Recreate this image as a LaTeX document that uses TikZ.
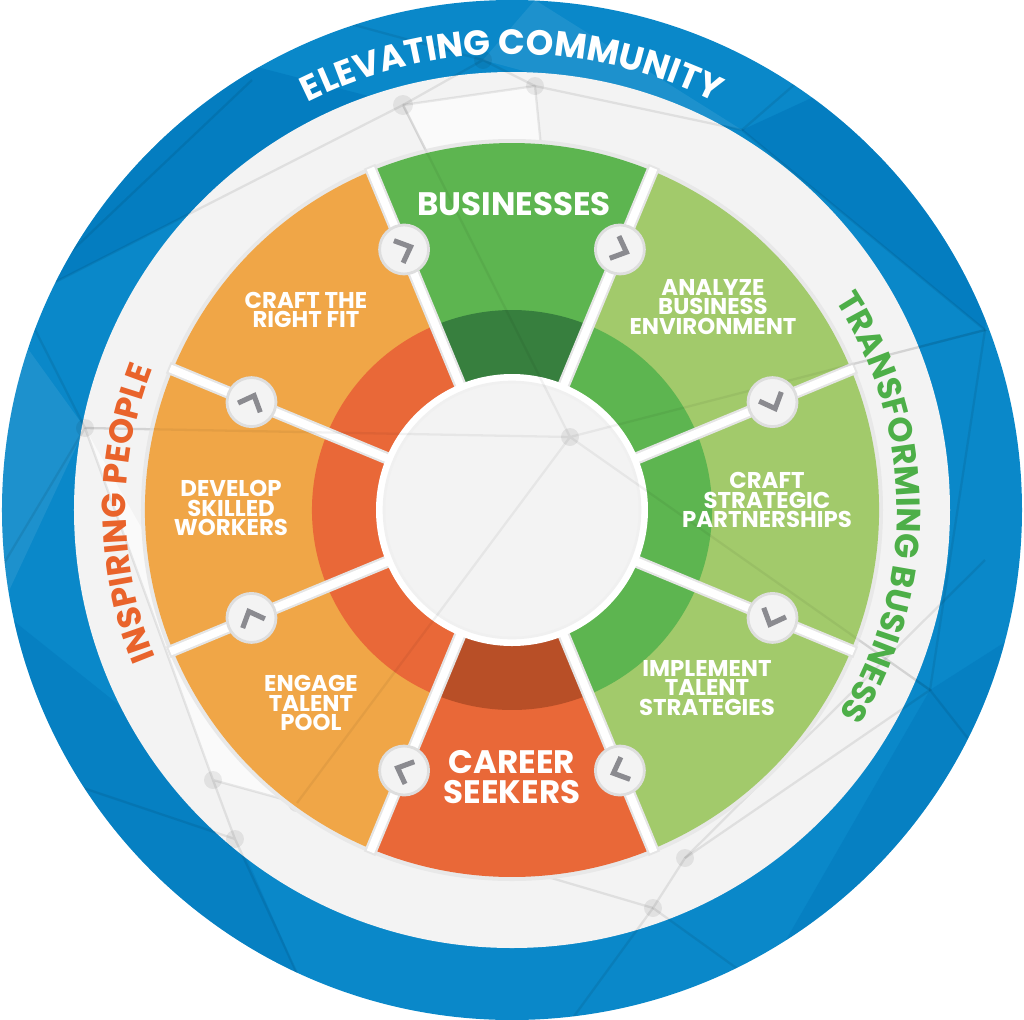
\documentclass[tikz,border=0pt]{standalone}
\usepackage{fontspec}
\setmainfont{Poppins}
\usepackage{tikz}
\usetikzlibrary{decorations.text}

\definecolor{ringblue}{HTML}{0A88C9}
\definecolor{ringdeep}{HTML}{0074B9}
\definecolor{ringbg}{HTML}{F3F3F3}
\definecolor{bizgreen}{HTML}{5DB550}
\definecolor{bizdark}{HTML}{377F3E}
\definecolor{lightgreen}{HTML}{A2CA6B}
\definecolor{peach}{HTML}{F0A647}
\definecolor{careerred}{HTML}{E96838}
\definecolor{careerdark}{HTML}{B84F27}
\definecolor{peopleorange}{HTML}{E9632B}
\definecolor{transgreen}{HTML}{4DAF48}
\definecolor{chevgray}{HTML}{8B8B90}
\newcommand\ringfont{\fontsize{20}{20}\selectfont\bfseries}
\newcommand\sidefont{\fontsize{19}{19}\selectfont\bfseries}

\begin{document}
\begin{tikzpicture}[x=0.02cm,y=0.02cm,
  mesh/.style={draw=black,draw opacity=0.08,line width=1.3pt},
  meshdot/.style={fill=black,fill opacity=0.07},
  gapshade/.style={draw=black!10,line width=7pt},
  gapline/.style={draw=white,line width=4.5pt},
  hub/.style={circle,fill=ringbg,draw=black!13,line width=1.6pt,minimum size=0.98cm,inner sep=0pt},
  chev/.style={draw=chevgray,line width=2.9pt,line join=miter},
  lbl/.style={text=white,font=\fontsize{13}{11.2}\selectfont\bfseries,align=center},
  biglbl/.style={text=white,font=\fontsize{18.5}{17.3}\selectfont\bfseries,align=center}]
\useasboundingbox (-512,-509) rectangle (512,510);

% outer blue ring
\fill[ringblue] (0,0) circle[radius=510];
\begin{scope}
\clip (0,0) circle[radius=510];
\fill[ringdeep,opacity=0.5] (-512,510) -- (-109,405) -- (-492,210) -- cycle;
\fill[ringdeep,opacity=0.5] (230,380) -- (512,510) -- (473,180) -- cycle;
\fill[ringdeep,opacity=0.4] (-512,-100) -- (-299,-270) -- (-212,-470) -- (-512,-509) -- cycle;
\fill[ringdeep,opacity=0.4] (248,-475) -- (512,-509) -- (512,-120) -- (418,-180) -- cycle;
\fill[white,opacity=0.08] (-29,450) -- (230,380) -- (23,510) -- cycle;
\fill[white,opacity=0.08] (-512,-100) -- (-427,82) -- (-512,200) -- cycle;
\fill[ringbg] (0,0) circle[radius=438];
\fill[white,opacity=0.6] (-109,405) -- (23,424) -- (58,73) -- cycle;
\fill[white,opacity=0.6] (-427,82) -- (-299,-270) -- (-215,-293) -- cycle;
% network pattern
\draw[mesh] (-109,405) -- (23,424) -- (230,380) -- (473,180) -- (58,73) -- (-109,405)
  -- (-492,210) -- (-427,82) -- (58,73) -- (418,-180) -- (173,-348) -- (141,-398) -- (248,-475);
\draw[mesh] (-109,405) -- (-29,450) -- (23,424) (-29,450) -- (-250,510) (23,424) -- (58,73)
  (230,380) -- (380,510) (473,180) -- (418,-180) -- (512,-300);
\draw[mesh] (-427,82) -- (-299,-270) -- (-277,-329) -- (-212,-470) (-299,-270) -- (-215,-293)
  -- (141,-398) (-215,-293) -- (58,73) (-277,-329) -- (-512,-250) (-427,82) -- (-512,-60)
  (173,-348) -- (473,-50) (141,-398) -- (60,-509) (-492,210) -- (-260,430);
\fill[meshdot] (-109,405) circle[radius=10] (23,424) circle[radius=9] (-29,450) circle[radius=9]
  (-427,82) circle[radius=9] (58,73) circle[radius=9] (173,-348) circle[radius=9]
  (141,-398) circle[radius=9] (-299,-270) circle[radius=9] (-277,-329) circle[radius=9]
  (-215,-293) circle[radius=9];
\end{scope}

% wheel
\fill[black!9] (0,0) circle[radius=371];
\fill[bizgreen] (0,0) -- (67.5:367) arc[start angle=67.5,end angle=112.5,radius=367] -- cycle;
\fill[peach] (0,0) -- (112.5:367) arc[start angle=112.5,end angle=247.5,radius=367] -- cycle;
\fill[careerred] (0,0) -- (247.5:367) arc[start angle=247.5,end angle=292.5,radius=367] -- cycle;
\fill[lightgreen] (0,0) -- (-67.5:367) arc[start angle=-67.5,end angle=67.5,radius=367] -- cycle;
\fill[bizdark] (0,0) -- (67.5:200) arc[start angle=67.5,end angle=112.5,radius=200] -- cycle;
\fill[careerred] (0,0) -- (112.5:200) arc[start angle=112.5,end angle=247.5,radius=200] -- cycle;
\fill[careerdark] (0,0) -- (247.5:200) arc[start angle=247.5,end angle=292.5,radius=200] -- cycle;
\fill[bizgreen] (0,0) -- (-67.5:200) arc[start angle=-67.5,end angle=67.5,radius=200] -- cycle;
\draw[gapshade] (22.5:125) -- (22.5:372) (67.5:125) -- (67.5:372) (112.5:125) -- (112.5:372)
  (157.5:125) -- (157.5:372) (202.5:125) -- (202.5:372) (247.5:125) -- (247.5:372)
  (292.5:125) -- (292.5:372) (337.5:125) -- (337.5:372);
\draw[gapline] (22.5:125) -- (22.5:370) (67.5:125) -- (67.5:370) (112.5:125) -- (112.5:370)
  (157.5:125) -- (157.5:370) (202.5:125) -- (202.5:370) (247.5:125) -- (247.5:370)
  (292.5:125) -- (292.5:370) (337.5:125) -- (337.5:370);
\fill[white] (0,0) circle[radius=136];
\fill[ringbg,draw=black!6,line width=1.5pt] (0,0) circle[radius=128];
\draw[mesh,draw opacity=0.05] (-109,405) -- (58,73) -- (473,180) (-427,82) -- (58,73) -- (418,-180)
  (-215,-293) -- (58,73);
\fill[meshdot] (58,73) circle[radius=9];

% hubs
\node[hub] (h1) at (22.5:282) {};
\node[hub] (h2) at (67.5:282) {};
\node[hub] (h3) at (112.5:282) {};
\node[hub] (h4) at (157.5:282) {};
\node[hub] (h5) at (202.5:282) {};
\node[hub] (h6) at (247.5:282) {};
\node[hub] (h7) at (292.5:282) {};
\node[hub] (h8) at (337.5:282) {};
\draw[chev,shift={(h1)},rotate=-67.5] (-6,12) -- (7,0) -- (-6,-12);
\draw[chev,shift={(h2)},rotate=-22.5] (-6,12) -- (7,0) -- (-6,-12);
\draw[chev,shift={(h3)},rotate=22.5] (-6,12) -- (7,0) -- (-6,-12);
\draw[chev,shift={(h4)},rotate=67.5] (-6,12) -- (7,0) -- (-6,-12);
\draw[chev,shift={(h5)},rotate=112.5] (-6,12) -- (7,0) -- (-6,-12);
\draw[chev,shift={(h6)},rotate=157.5] (-6,12) -- (7,0) -- (-6,-12);
\draw[chev,shift={(h7)},rotate=202.5] (-6,12) -- (7,0) -- (-6,-12);
\draw[chev,shift={(h8)},rotate=247.5] (-6,12) -- (7,0) -- (-6,-12);

% labels
\node[biglbl] (biz) at (2,306) {BUSINESSES};
\node[biglbl] (career) at (0,-267) {CAREER\\SEEKERS};
\node[lbl] (analyze) at (201,203) {ANALYZE\\BUSINESS\\ENVIRONMENT};
\node[lbl] (partner) at (255,10) {CRAFT\\STRATEGIC\\PARTNERSHIPS};
\node[lbl] (implement) at (195,-178) {IMPLEMENT\\TALENT\\STRATEGIES};
\node[lbl] (rightfit) at (-206,200) {CRAFT THE\\RIGHT FIT};
\node[lbl] (develop) at (-281,2) {DEVELOP\\SKILLED\\WORKERS};
\node[lbl] (engage) at (-201,-193) {ENGAGE\\TALENT\\POOL};

% ring titles
\path[decorate,decoration={text along path,text align=center,text color=white,
  text={|\ringfont|ELEVATING COMMUNITY}}] (125:456) arc[start angle=125,end angle=55,radius=456];
\path[decorate,decoration={text along path,text align=center,text color=peopleorange,
  text={|\sidefont|INSPIRING PEOPLE}}] (212:386) arc[start angle=212,end angle=149,radius=386];
\path[decorate,decoration={text along path,text align=center,text color=transgreen,
  text={|\sidefont|TRANSFORMING BUSINESS}}] (36:385) arc[start angle=36,end angle=-35,radius=385];
\end{tikzpicture}
\end{document}
